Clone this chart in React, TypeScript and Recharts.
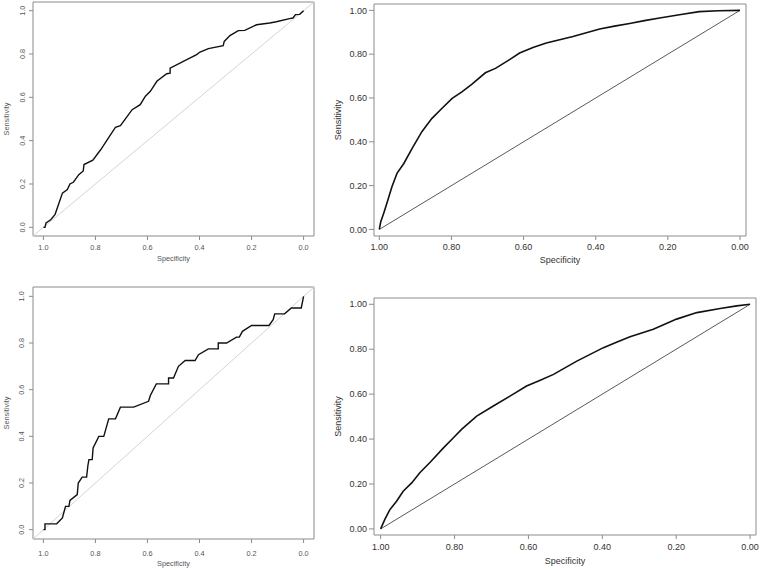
import { LineChart, Line, XAxis, YAxis, ReferenceLine, ReferenceArea } from 'recharts';

const tickValues = [0, 0.2, 0.4, 0.6, 0.8, 1];

// top-left ROC (R / pROC look)
const specA = [1, 0.994, 0.99, 0.972, 0.955, 0.927, 0.908, 0.898, 0.885, 0.864, 0.847, 0.844, 0.81, 0.78, 0.736, 0.723, 0.704, 0.659, 0.628, 0.608, 0.589, 0.564, 0.526, 0.513, 0.513, 0.449, 0.411, 0.398, 0.366, 0.309, 0.305, 0.283, 0.251, 0.226, 0.181, 0.13, 0.105, 0.054, 0.041, 0.031, 0.015, 0];
const sensA = [0, 0, 0.02, 0.035, 0.06, 0.158, 0.174, 0.2, 0.208, 0.243, 0.26, 0.29, 0.31, 0.358, 0.438, 0.462, 0.469, 0.543, 0.566, 0.605, 0.628, 0.674, 0.709, 0.712, 0.735, 0.774, 0.797, 0.809, 0.825, 0.838, 0.858, 0.885, 0.908, 0.909, 0.935, 0.943, 0.949, 0.963, 0.966, 0.982, 0.983, 1];

// top-right ROC (SAS look)
const specB = [1, 0.996, 0.988, 0.979, 0.965, 0.951, 0.932, 0.909, 0.882, 0.854, 0.826, 0.798, 0.771, 0.743, 0.706, 0.678, 0.641, 0.611, 0.574, 0.537, 0.5, 0.463, 0.426, 0.389, 0.348, 0.306, 0.265, 0.223, 0.168, 0.113, 0.06, 0];
const sensB = [0, 0.035, 0.073, 0.119, 0.195, 0.256, 0.301, 0.37, 0.446, 0.507, 0.553, 0.598, 0.628, 0.663, 0.715, 0.735, 0.773, 0.805, 0.83, 0.851, 0.866, 0.881, 0.898, 0.915, 0.928, 0.94, 0.953, 0.965, 0.98, 0.994, 0.998, 1];

// bottom-left ROC (R / pROC look, 40 cases)
const specC = [1, 0.994, 0.994, 0.949, 0.927, 0.915, 0.902, 0.898, 0.87, 0.866, 0.851, 0.834, 0.829, 0.825, 0.8125, 0.809, 0.787, 0.768, 0.749, 0.723, 0.704, 0.653, 0.596, 0.589, 0.566, 0.519, 0.519, 0.5, 0.481, 0.455, 0.417, 0.404, 0.366, 0.328, 0.328, 0.296, 0.258, 0.247, 0.235, 0.2, 0.133, 0.117, 0.111, 0.073, 0.047, 0.009, 0];
const sensC = [0, 0, 0.025, 0.025, 0.05, 0.1, 0.1, 0.125, 0.15, 0.2, 0.225, 0.225, 0.275, 0.3, 0.3, 0.35, 0.4, 0.4, 0.475, 0.475, 0.525, 0.525, 0.55, 0.575, 0.625, 0.625, 0.65, 0.65, 0.7, 0.725, 0.725, 0.75, 0.775, 0.775, 0.8, 0.8, 0.825, 0.825, 0.85, 0.875, 0.875, 0.9, 0.925, 0.925, 0.95, 0.95, 1];

// bottom-right ROC (SAS look)
const specD = [1, 0.988, 0.975, 0.957, 0.939, 0.916, 0.894, 0.866, 0.83, 0.803, 0.781, 0.74, 0.695, 0.65, 0.605, 0.568, 0.532, 0.5, 0.469, 0.433, 0.397, 0.36, 0.325, 0.262, 0.199, 0.144, 0.081, 0.036, 0];
const sensD = [0, 0.045, 0.086, 0.123, 0.168, 0.205, 0.25, 0.297, 0.361, 0.406, 0.443, 0.502, 0.547, 0.591, 0.636, 0.662, 0.688, 0.718, 0.747, 0.777, 0.807, 0.832, 0.856, 0.889, 0.934, 0.963, 0.981, 0.993, 1];

const zip = (spec: number[], sens: number[]) => spec.map((s, i) => ({ spec: s, sens: sens[i] }));

type PanelProps = {
  left: number;
  top: number;
  width: number;
  height: number;
  margin: { top: number; right: number; bottom: number; left: number };
  yWidth: number;
  xHeight: number;
  xDomain: number[];
  yDomain: number[];
  data: { spec: number; sens: number }[];
  look: 'r' | 'sas';
  xTickMargin: number;
  yTickMargin: number;
  xLabelOffset: number;
  yLabelOffset: number;
};

const RotatedTick = (props: any) => {
  const { x, y, payload } = props;
  return (
    <text x={x} y={y} transform={`rotate(-90, ${x}, ${y})`} textAnchor="middle" dy="0.35em"
      fontSize={7.3} fill="#555" fontFamily="'Liberation Sans', Arial, sans-serif">
      {payload.value.toFixed(1)}
    </text>
  );
};

function RocPanel(p: PanelProps) {
  const isR = p.look === 'r';
  const font = "'Liberation Sans', Arial, sans-serif";
  const textColor = isR ? '#555' : '#333';
  const fs = isR ? 7.3 : 9;
  const frameColor = isR ? '#8a8a8a' : '#8c8c8c';
  // R draws the chance line across the whole plot region, SAS only from (1,0) to (0,1)
  const diag = isR
    ? [{ x: p.xDomain[1], y: 1 - p.xDomain[1] }, { x: p.xDomain[0], y: 1 - p.xDomain[0] }]
    : [{ x: 1, y: 0 }, { x: 0, y: 1 }];

  return (
    <div style={{ position: 'absolute', left: p.left, top: p.top }}>
      <LineChart width={p.width} height={p.height} margin={p.margin}>
        <XAxis
          type="number"
          dataKey="spec"
          reversed
          domain={p.xDomain}
          ticks={tickValues}
          tickFormatter={(v: number) => v.toFixed(isR ? 1 : 2)}
          height={p.xHeight}
          axisLine={false}
          tickLine={{ stroke: frameColor }}
          tickSize={4}
          tickMargin={p.xTickMargin}
          tick={{ fontSize: fs, fill: textColor, fontFamily: font }}
          interval={0}
          label={{ value: 'Specificity', position: 'insideBottom', offset: p.xLabelOffset, fontSize: fs, fill: textColor, fontFamily: font }}
        />
        <YAxis
          type="number"
          dataKey="sens"
          domain={p.yDomain}
          ticks={tickValues}
          tickFormatter={(v: number) => v.toFixed(2)}
          width={p.yWidth}
          axisLine={false}
          tickLine={{ stroke: frameColor }}
          tickSize={isR ? 4 : 5}
          tickMargin={p.yTickMargin}
          tick={isR ? RotatedTick : { fontSize: fs, fill: textColor, fontFamily: font }}
          interval={0}
          label={{ value: 'Sensitivity', angle: -90, position: 'insideLeft', offset: p.yLabelOffset, fontSize: fs, fill: textColor, fontFamily: font, style: { textAnchor: 'middle' } }}
        />
        <ReferenceArea x1={p.xDomain[0]} x2={p.xDomain[1]} y1={p.yDomain[0]} y2={p.yDomain[1]} fill="none" stroke={frameColor} strokeWidth={1} />
        <ReferenceLine segment={diag} stroke={isR ? '#d4d4d4' : '#5a5a5a'} strokeWidth={1} />
        <Line
          data={p.data}
          dataKey="sens"
          type="linear"
          stroke="#111"
          strokeWidth={isR ? 1.4 : 1.6}
          dot={false}
          activeDot={false}
          isAnimationActive={false}
        />
      </LineChart>
    </div>
  );
}

export default function App() {
  return (
    <div style={{ position: 'absolute', left: 0, top: 0, width: 761, height: 570, background: '#fff' }}>
      <RocPanel left={0} top={0} width={318} height={270} margin={{ top: 2, right: 4, bottom: 4, left: 0 }}
        yWidth={33} xHeight={30} xDomain={[-0.04, 1.04]} yDomain={[-0.04, 1.04]} data={zip(specA, sensA)}
        look="r" xTickMargin={5} yTickMargin={7} xLabelOffset={5.5} yLabelOffset={6} />
      <RocPanel left={320} top={0} width={430} height={270} margin={{ top: 4, right: 4, bottom: 2, left: 0 }}
        yWidth={54} xHeight={32} xDomain={[-0.0166, 1.0147]} yDomain={[-0.03, 1.029]} data={zip(specB, sensB)}
        look="sas" xTickMargin={4} yTickMargin={2} xLabelOffset={5} yLabelOffset={18.3} />
      <RocPanel left={0} top={280} width={318} height={290} margin={{ top: 7, right: 4, bottom: 1, left: 0 }}
        yWidth={33} xHeight={30} xDomain={[-0.04, 1.04]} yDomain={[-0.04, 1.04]} data={zip(specC, sensC)}
        look="r" xTickMargin={8} yTickMargin={8} xLabelOffset={3.5} yLabelOffset={6} />
      <RocPanel left={320} top={280} width={440} height={290} margin={{ top: 18, right: 4, bottom: 3, left: 0 }}
        yWidth={54} xHeight={32} xDomain={[-0.016, 1.018]} yDomain={[-0.027, 1.028]} data={zip(specD, sensD)}
        look="sas" xTickMargin={5} yTickMargin={2} xLabelOffset={3.2} yLabelOffset={18.3} />
    </div>
  );
}
